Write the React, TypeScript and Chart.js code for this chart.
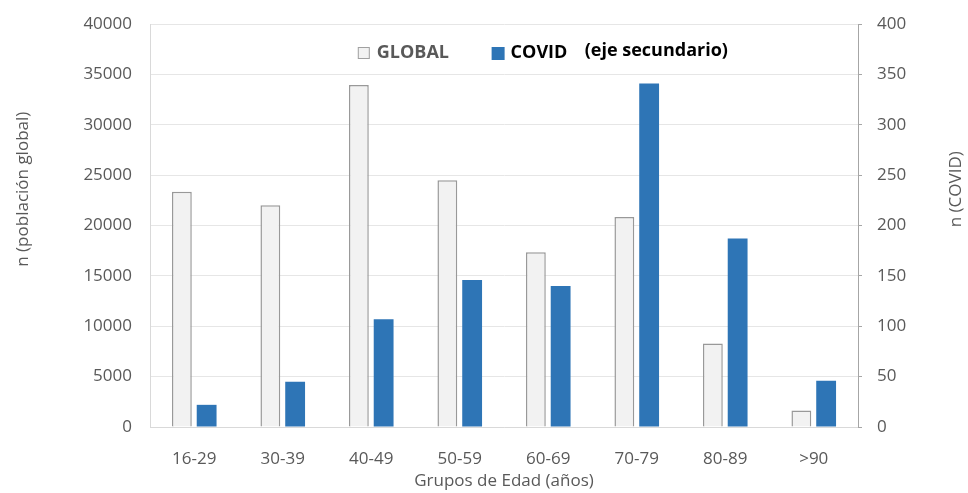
import React, { useEffect, useRef } from "react";
import { Chart, registerables } from "chart.js";

Chart.register(...registerables);

const categories = ["16-29", "30-39", "40-49", "50-59", "60-69", "70-79", "80-89", ">90"];
const globalValues = [23350, 22000, 33950, 24500, 17350, 20850, 8300, 1650];
const covidValues = [22, 45, 107, 146, 140, 341, 187, 46];
const leftTicks = [0, 5000, 10000, 15000, 20000, 25000, 30000, 35000, 40000];
const rightTicks = [0, 50, 100, 150, 200, 250, 300, 350, 400];

const FONT = "'Open Sans', 'Noto Sans', sans-serif";
const GREY_TEXT = "#595959";

const overlayPlugin = {
  id: "overlay",
  afterDraw(chart: any) {
    const { ctx, chartArea } = chart;
    const w = chartArea.right - chartArea.left;
    ctx.save();
    // legend
    const boxY = chartArea.top + 23;
    const textY = boxY + 6;
    const x1 = chartArea.left + w * 0.2935;
    ctx.fillStyle = "#f2f2f2";
    ctx.strokeStyle = "#a0a0a0";
    ctx.lineWidth = 1;
    ctx.fillRect(x1, boxY, 12, 12);
    ctx.strokeRect(x1 + 0.5, boxY + 0.5, 11, 11);
    ctx.font = `bold 18px ${FONT}`;
    ctx.textBaseline = "middle";
    ctx.textAlign = "left";
    ctx.fillStyle = GREY_TEXT;
    ctx.fillText("GLOBAL", x1 + 19, textY);
    const x2 = chartArea.left + w * 0.4825;
    ctx.fillStyle = "#2e75b6";
    ctx.fillRect(x2, boxY, 13, 13);
    ctx.fillStyle = "#000000";
    ctx.fillText("COVID", x2 + 19, textY);
    ctx.fillText("(eje secundario)", chartArea.left + w * 0.614, textY - 2);
    // axis titles
    ctx.font = `17px ${FONT}`;
    ctx.fillStyle = GREY_TEXT;
    ctx.textAlign = "center";
    ctx.textBaseline = "middle";
    const ty = chartArea.top + (chartArea.bottom - chartArea.top) * 0.41;
    ctx.save();
    ctx.translate(23, ty);
    ctx.rotate(-Math.PI / 2);
    ctx.fillText("n (población global)", 0, 0);
    ctx.restore();
    ctx.save();
    ctx.translate(chart.width - 12, ty);
    ctx.rotate(-Math.PI / 2);
    ctx.fillText("n (COVID)", 0, 0);
    ctx.restore();
    ctx.restore();
  },
};

export default function App() {
  const ref = useRef<HTMLCanvasElement | null>(null);
  useEffect(() => {
    if (!ref.current) return;
    const chart = new Chart(ref.current, {
      type: "bar",
      data: {
        labels: categories,
        datasets: [
          {
            label: "GLOBAL",
            data: globalValues,
            yAxisID: "y",
            backgroundColor: "#f2f2f2",
            borderColor: "#999999",
            borderWidth: 1.5,
            categoryPercentage: 0.56,
            barPercentage: 0.8,
          },
          {
            label: "COVID",
            data: covidValues,
            yAxisID: "y1",
            backgroundColor: "#2e75b6",
            borderWidth: 0,
            categoryPercentage: 0.56,
            barPercentage: 0.8,
          },
        ],
      },
      options: {
        animation: false,
        responsive: true,
        maintainAspectRatio: false,
        layout: { padding: { top: 24, left: 0, right: 0, bottom: 0 } },
        plugins: {
          legend: { display: false },
          tooltip: { enabled: false },
        },
        scales: {
          x: {
            grid: { display: false },
            border: { display: true, color: "#d9d9d9" },
            ticks: { font: { family: FONT, size: 17 }, color: GREY_TEXT, padding: 14 },
            title: {
              display: true,
              text: "Grupos de Edad (años)",
              font: { family: FONT, size: 17 },
              color: GREY_TEXT,
              padding: { top: 0, bottom: 2 },
            },
            afterFit: (s: any) => {
              s.height = 66;
            },
          },
          y: {
            position: "left",
            min: 0,
            max: 40000,
            afterBuildTicks: (s: any) => {
              s.ticks = leftTicks.map((v) => ({ value: v }));
            },
            grid: { color: "#e6e6e6", drawTicks: false },
            border: { color: "#d9d9d9" },
            ticks: {
              font: { family: FONT, size: 17 },
              color: GREY_TEXT,
              padding: 18,
              callback: (v: any) => String(v),
            },
            afterFit: (s: any) => {
              s.width = 150;
              s.paddingTop = 0;
              s.paddingBottom = 0;
            },
          },
          y1: {
            position: "right",
            min: 0,
            max: 400,
            afterBuildTicks: (s: any) => {
              s.ticks = rightTicks.map((v) => ({ value: v }));
            },
            grid: { drawOnChartArea: false, tickLength: 4, color: "#a6a6a6" },
            border: { color: "#a6a6a6" },
            ticks: {
              font: { family: FONT, size: 17 },
              color: GREY_TEXT,
              padding: 15,
              callback: (v: any) => String(v),
            },
            afterFit: (s: any) => {
              s.width = 110;
              s.paddingTop = 0;
              s.paddingBottom = 0;
            },
          },
        },
      },
      plugins: [overlayPlugin],
    });
    return () => chart.destroy();
  }, []);
  return (
    <div style={{ position: "absolute", left: 0, top: 0, width: 968, height: 493, background: "#fff" }}>
      <canvas ref={ref} />
    </div>
  );
}
